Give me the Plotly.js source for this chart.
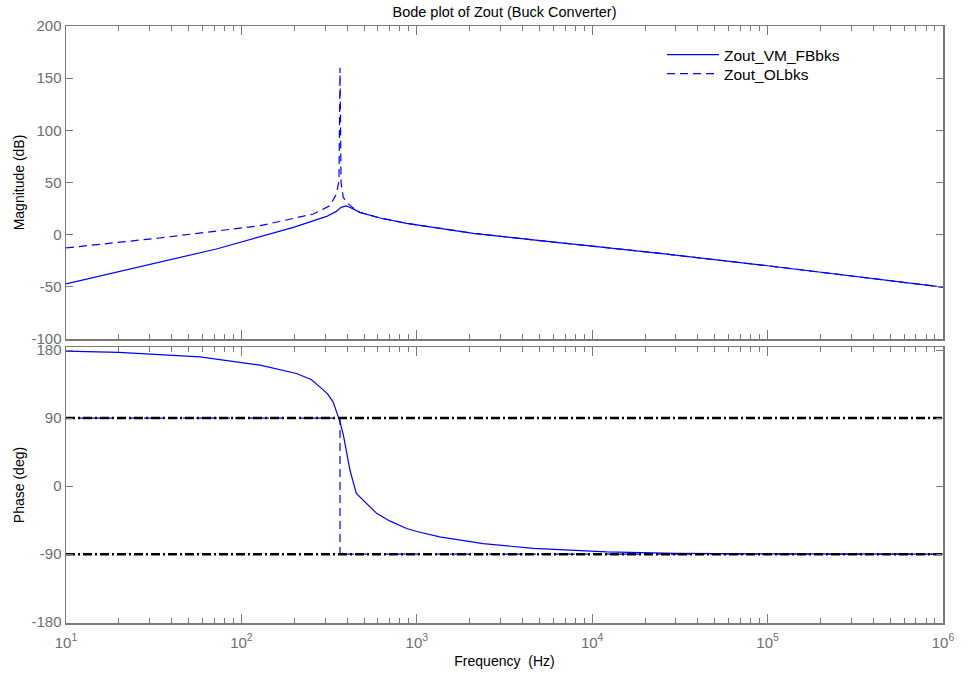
<!DOCTYPE html>
<html>
<head>
<meta charset="utf-8">
<script src="https://cdn.plot.ly/plotly-3.0.1.min.js"></script>
<style>html,body{margin:0;padding:0;background:#fff;}#chart{width:968px;height:673px;}</style>
</head>
<body>
<div id="chart"></div>
<script>
// Magnitude, feedback (solid)
const freqMagFB = [10, 72, 198, 306, 348, 370, 395, 420, 474, 617, 875, 2100, 5040, 24400, 100000, 1000000];
const magFB = [-47.2, -13.7, 7.0, 17.5, 22.3, 26.2, 27.5, 25.8, 21.4, 16.0, 10.9, 1.3, -5.7, -17.9, -29.8, -50.3];
// Magnitude, open loop (dashed)
const freqMagOL = [10, 34, 128, 257, 320, 348, 360, 365, 370, 381, 404, 452, 474, 617, 875, 2100, 5040, 24400, 100000, 1000000];
const magOL = [-12.7, -3.2, 8.6, 19.8, 27.8, 39.0, 51.7, 160, 50, 35.7, 30.0, 23.0, 21.4, 16.0, 10.9, 1.3, -5.7, -17.9, -29.8, -50.3];
// Phase, feedback (solid)
const freqPhFB = [10, 20, 58, 128, 206, 250, 281, 310, 333, 354, 365, 381, 416, 452, 519, 590, 700, 875, 1000, 1350, 2390, 4640, 12100, 30000, 100000, 1000000];
const phFB = [178.5, 177, 171, 160, 149, 141, 131, 122, 111.5, 94, 85, 68, 21, -9.7, -24, -36, -46, -56, -60, -67, -76, -82.4, -87, -89, -89.7, -90];
// Phase, open loop (dashed)
const freqPhOL = [10, 365, 365, 1000000];
const phOL = [90, 90, -90, -90];
// Reference lines
const refFreq = [10, 1000000];
const refPlus90 = [90, 90];
const refMinus90 = [-90, -90];
// Tick labels
const xTickVals = [10, 100, 1000, 10000, 100000, 1000000];
const xTickText = ['10<sup>1</sup>', '10<sup>2</sup>', '10<sup>3</sup>', '10<sup>4</sup>', '10<sup>5</sup>', '10<sup>6</sup>'];
const magTickVals = [-100, -50, 0, 50, 100, 150, 200];
const magTickText = ['-100', '-50', '0', '50', '100', '150', '200'];
const phTickVals = [-180, -90, 0, 90, 180];
const phTickText = ['-180', '-90', '0', '90', '180'];

const BLUE = '#0000ff';
const AXC = '#7a7a7a';
const FONT = 'Liberation Sans, Arial, sans-serif';

const traces = [
  {x: freqMagFB, y: magFB, xaxis: 'x', yaxis: 'y', mode: 'lines', name: 'Zout_VM_FBbks', legend: 'legend',
   line: {color: BLUE, width: 1.2}},
  {x: freqMagOL, y: magOL, xaxis: 'x', yaxis: 'y', mode: 'lines', name: 'Zout_OLbks', legend: 'legend2',
   line: {color: BLUE, width: 1.2, dash: '8px,5px'}},
  {x: freqPhFB, y: phFB, xaxis: 'x2', yaxis: 'y2', mode: 'lines', showlegend: false,
   line: {color: BLUE, width: 1.2}},
  {x: freqPhOL, y: phOL, xaxis: 'x2', yaxis: 'y2', mode: 'lines', showlegend: false,
   line: {color: BLUE, width: 1.2, dash: '8px,5px'}},
  {x: refFreq, y: refPlus90, xaxis: 'x2', yaxis: 'y2', mode: 'lines', showlegend: false,
   line: {color: '#000', width: 2.5, dash: '9px,3px,2px,3px'}},
  {x: refFreq, y: refMinus90, xaxis: 'x2', yaxis: 'y2', mode: 'lines', showlegend: false,
   line: {color: '#000', width: 2.5, dash: '9px,3px,2px,3px'}}
];

const xCommon = {
  type: 'log', range: [1, 6], tickmode: 'array', tickvals: xTickVals, ticktext: xTickText,
  ticks: 'inside', ticklen: 9, tickcolor: AXC, tickwidth: 1,
  showline: true, linecolor: AXC, linewidth: 1.5, mirror: 'allticks',
  showgrid: false, zeroline: false,
  minor: {ticks: 'inside', ticklen: 5, tickcolor: AXC, dtick: 'D1', showgrid: false},
  tickfont: {family: FONT, size: 15, color: '#6e6e6e'}
};

const legendCommon = {x: 0.6796, xanchor: 'left', yanchor: 'top', bgcolor: 'rgba(0,0,0,0)',
  borderwidth: 0, font: {family: FONT, size: 15.5, color: '#000'}, itemwidth: 52};

const layout = {
  width: 968, height: 673,
  margin: {l: 66, r: 25, t: 26, b: 50},
  paper_bgcolor: '#fff', plot_bgcolor: '#fff',
  font: {family: FONT, color: '#000'},
  title: {text: 'Bode plot of Zout (Buck Converter)', font: {family: FONT, size: 14.5, color: '#000'},
          x: 0.5, xref: 'paper', y: 0.982, yref: 'container', yanchor: 'middle'},
  showlegend: true,
  legend: Object.assign({}, legendCommon, {y: 0.9799}),
  legend2: Object.assign({}, legendCommon, {y: 0.948}),
  xaxis: Object.assign({}, xCommon, {anchor: 'y', showticklabels: false}),
  xaxis2: Object.assign({}, xCommon, {anchor: 'y2', matches: 'x', ticklabelstandoff: 5,
          title: {text: 'Frequency\u00a0 (Hz)', font: {family: FONT, size: 14, color: '#000'}, standoff: 6}}),
  yaxis: {domain: [0.4757, 1], range: [-100, 200], tickmode: 'array', tickvals: magTickVals, ticktext: magTickText,
          ticks: 'inside', ticklen: 7, tickcolor: AXC, showline: true, linecolor: AXC, linewidth: 1.5,
          mirror: 'allticks', showgrid: false, zeroline: false,
          tickfont: {family: FONT, size: 15, color: '#6e6e6e'},
          title: {text: 'Magnitude (dB)', font: {family: FONT, size: 14, color: '#000'}, standoff: 3}},
  yaxis2: {domain: [0, 0.4623], range: [-181, 184], tickmode: 'array', tickvals: phTickVals, ticktext: phTickText,
          ticks: 'inside', ticklen: 7, tickcolor: AXC, showline: true, linecolor: AXC, linewidth: 1.5,
          mirror: 'allticks', showgrid: false, zeroline: false,
          tickfont: {family: FONT, size: 15, color: '#6e6e6e'},
          title: {text: 'Phase (deg)', font: {family: FONT, size: 14, color: '#000'}, standoff: 3}}
};

Plotly.newPlot('chart', traces, layout, {displayModeBar: false, staticPlot: true});
</script>
</body>
</html>
